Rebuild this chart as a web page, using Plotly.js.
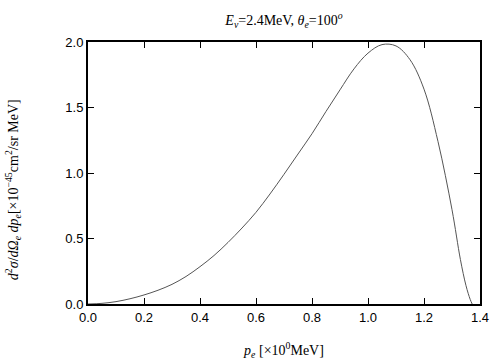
<!DOCTYPE html>
<html><head><meta charset="utf-8">
<script src="https://cdn.plot.ly/plotly-3.0.1.min.js"></script>
<style>html,body{margin:0;padding:0;background:#fff}#c{width:504px;height:360px}</style>
</head><body><div id="c"></div>
<script>
const pe = [0, 0.05, 0.1, 0.15, 0.2, 0.25, 0.3, 0.35, 0.4, 0.45, 0.5, 0.55, 0.6, 0.65, 0.7, 0.75, 0.8, 0.85, 0.9, 0.95, 1.0, 1.05, 1.1, 1.15, 1.2, 1.25, 1.3, 1.33, 1.35, 1.365, 1.372];
const xsec = [0, 0.005, 0.018, 0.04, 0.069, 0.105, 0.15, 0.21, 0.285, 0.37, 0.47, 0.58, 0.70, 0.84, 0.99, 1.145, 1.30, 1.47, 1.635, 1.795, 1.915, 1.98, 1.97, 1.865, 1.64, 1.24, 0.72, 0.34, 0.14, 0.035, 0.0];
const xTicks = [0, 0.2, 0.4, 0.6, 0.8, 1.0, 1.2, 1.4];
const xTickText = ['0.0','0.2','0.4','0.6','0.8','1.0','1.2','1.4'];
const yTicks = [0, 0.5, 1.0, 1.5, 2.0];
const yTickText = ['0.0','0.5','1.0','1.5','2.0'];
const yTitle = '<i>d</i><sup>2</sup><i>σ</i>/<i>d</i><i>Ω</i><sub><i>e</i></sub> <i>dp</i><sub><i>e</i></sub>[×10<sup>−45</sup>cm<sup>2</sup>/sr MeV]';

const serif = 'Liberation Serif, Times New Roman, serif';
const sans = 'Liberation Sans, Arial, sans-serif';

Plotly.newPlot('c', [{
  x: pe, y: xsec, mode: 'lines', type: 'scatter',
  line: {color: '#555', width: 1, shape: 'spline', smoothing: 1},
  hoverinfo: 'skip'
}], {
  width: 504, height: 360,
  margin: {l: 88, r: 24, t: 42, b: 56, pad: 0},
  paper_bgcolor: '#fff', plot_bgcolor: '#fff',
  showlegend: false,
  title: {text: '<i>E</i><sub><i>ν</i></sub>=2.4MeV, <i>θ</i><sub><i>e</i></sub>=100<sup><i>o</i></sup>',
    font: {family: serif, size: 14, color: '#000'}, x: 0.5635, xanchor: 'center', y: 0.945, yanchor: 'middle'},
  xaxis: {
    range: [0, 1.4], tickvals: xTicks, ticktext: xTickText,
    ticks: 'inside', ticklen: 6, tickwidth: 1, tickcolor: '#000',
    showline: true, linecolor: '#000', linewidth: 2, mirror: 'ticks',
    showgrid: false, zeroline: false,
    tickfont: {family: sans, size: 13, color: '#000'},
    title: {text: '<i>p</i><sub><i>e</i></sub> [×10<sup>0</sup>MeV]', font: {family: serif, size: 14, color: '#000'}, standoff: 29}
  },
  yaxis: {
    range: [0, 2.0], tickvals: yTicks, ticktext: yTickText,
    ticks: 'inside', ticklen: 6, tickwidth: 1, tickcolor: '#000',
    showline: true, linecolor: '#000', linewidth: 2, mirror: 'ticks',
    showgrid: false, zeroline: false,
    tickfont: {family: sans, size: 13, color: '#000'}
  },
  annotations: [{
    text: yTitle, xref: 'paper', yref: 'paper', x: -0.191, y: 0.435,
    xanchor: 'center', yanchor: 'middle', textangle: -90, showarrow: false,
    font: {family: serif, size: 14, color: '#000'}
  }]
}, {staticPlot: true, displayModeBar: false});
</script>
</body></html>
